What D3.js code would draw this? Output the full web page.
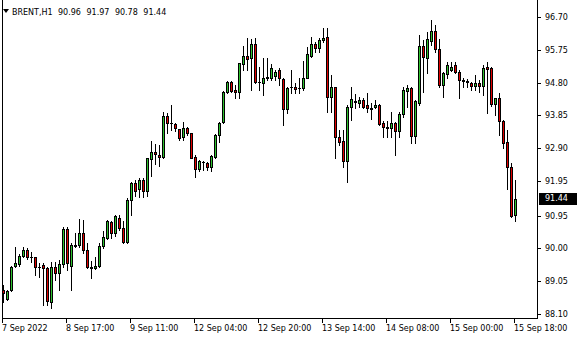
<!DOCTYPE html>
<html><head><meta charset="utf-8">
<script src="https://cdn.jsdelivr.net/npm/d3@7"></script>
<style>html,body{margin:0;padding:0;background:#fff;} svg{display:block;}</style>
</head><body>
<svg id="c" width="580" height="340"></svg>
<script>
const symbolName = "BRENT,H1";
const headerValues = "90.96 91.97 90.78 91.44";
const open = [
88.79,88.53,88.79,89.49,89.55,89.78,89.95,89.75,89.75,89.46,
89.52,89.43,88.45,89.46,89.29,89.55,90.56,89.49,90.08,90.10,
90.44,89.95,89.46,89.43,89.49,90.07,90.30,90.76,90.44,90.88,
90.59,90.18,91.40,91.89,91.72,91.98,91.66,92.59,92.79,92.70,
92.65,93.83,93.63,93.60,93.46,93.22,93.49,93.34,92.65,92.30,
92.50,92.47,92.36,92.65,93.28,93.66,94.53,94.82,94.59,94.53,
95.34,95.57,95.51,95.92,94.82,94.79,94.93,94.93,94.99,95.17,
94.90,94.04,94.67,94.67,94.64,94.64,94.93,95.57,95.92,95.80,
96.03,96.12,94.38,94.67,93.22,93.11,92.53,94.09,94.24,94.21,
94.30,94.15,94.06,94.09,94.15,93.63,93.51,93.49,93.63,93.40,
93.89,94.56,94.64,93.25,94.21,95.86,95.51,96.00,96.29,95.77,
94.73,95.05,95.17,95.31,95.11,94.88,94.85,94.79,94.70,94.79,
94.70,95.25,95.22,94.18,94.35,93.69,93.08,92.36,90.96];
const high = [
88.94,88.79,89.49,90.04,89.84,90.04,90.01,89.89,89.76,89.58,
89.58,89.46,89.60,89.60,89.66,90.62,90.62,90.16,90.44,90.85,
90.82,90.16,89.63,89.75,90.16,90.50,90.81,90.79,90.97,90.97,
90.79,91.46,91.92,91.98,92.04,92.04,92.63,93.11,93.02,92.99,
93.95,93.92,94.15,93.63,93.47,93.66,93.51,93.35,92.70,92.56,
92.53,92.50,92.70,93.31,93.66,94.56,94.85,94.85,94.73,95.38,
95.86,96.09,96.06,96.09,95.25,95.51,95.51,95.34,95.17,95.22,
94.93,94.67,95.17,94.79,94.93,95.43,95.83,96.12,95.98,96.09,
96.38,96.38,95.02,94.68,93.43,93.43,94.15,94.67,94.47,94.38,
94.35,94.50,94.21,94.30,94.18,93.69,93.69,93.95,93.66,93.95,
94.67,94.73,94.67,94.30,96.18,96.03,96.27,96.61,96.47,96.06,
95.11,95.40,95.40,95.40,95.17,94.93,94.90,94.82,95.02,94.88,
95.31,95.40,95.25,94.36,94.50,93.72,93.43,92.47,91.97];
const low = [
88.45,88.50,88.77,89.46,89.49,89.75,89.69,89.60,89.23,89.17,
88.36,88.36,88.27,89.08,88.79,89.46,89.37,88.79,90.04,90.04,
89.87,89.43,89.14,89.40,89.46,90.01,90.28,90.30,90.36,90.53,
90.16,90.16,90.97,91.52,91.49,91.49,91.52,92.10,92.44,92.39,
92.63,93.34,93.43,93.40,93.14,93.14,93.28,92.61,92.07,92.24,
92.27,92.27,92.24,92.62,93.08,93.63,94.50,94.53,94.35,94.35,
95.17,95.17,94.59,94.79,94.59,94.44,94.88,94.88,94.88,94.73,
93.57,93.92,94.50,94.50,94.50,94.59,94.92,95.54,95.69,95.69,
95.98,93.95,93.95,92.62,92.99,92.36,91.92,93.72,94.06,94.09,
94.06,93.95,93.75,94.06,93.57,93.22,93.22,93.22,92.70,93.22,
93.80,94.09,93.05,93.05,94.15,94.53,95.08,95.89,95.69,94.67,
94.38,94.93,95.14,95.08,94.35,94.67,94.67,94.59,94.59,94.53,
94.44,93.92,94.12,93.86,93.28,92.91,91.72,90.91,90.78];
const close = [
88.71,88.77,89.46,89.58,89.78,89.95,89.75,89.76,89.46,89.45,
89.43,88.48,89.46,89.29,89.55,90.56,89.58,90.10,90.10,90.44,
89.95,89.46,89.43,89.49,90.07,90.33,90.79,90.44,90.94,90.59,
90.18,91.40,91.89,91.66,91.98,91.66,92.62,92.79,92.73,92.65,
93.83,93.63,93.62,93.49,93.20,93.49,93.34,92.62,92.30,92.53,
92.51,92.36,92.67,93.28,93.63,94.53,94.82,94.56,94.53,95.37,
95.57,95.48,95.92,94.82,94.81,94.93,94.96,95.22,95.11,94.93,
94.04,94.64,94.66,94.61,94.63,94.93,95.63,95.92,95.80,96.03,
96.09,94.38,94.67,93.22,93.08,92.53,94.09,94.33,94.27,94.30,
94.09,94.06,94.05,94.15,93.60,93.51,93.50,93.63,93.40,93.89,
94.59,94.64,93.25,94.27,95.86,95.54,96.06,96.29,95.77,94.73,
95.08,95.31,95.25,95.11,94.88,94.85,94.83,94.70,94.79,94.70,
95.22,95.19,94.18,94.35,93.69,93.05,92.36,90.94,91.44];
const priceTicks = [96.70,95.75,94.80,93.85,92.90,91.95,90.95,90.00,89.05,88.10];
const dateLabels = ["7 Sep 2022","8 Sep 17:00","9 Sep 11:00","12 Sep 04:00","12 Sep 20:00","13 Sep 14:00","14 Sep 08:00","15 Sep 00:00","15 Sep 18:00"];
const dateIndex = [0,16,32,48,64,80,96,112,128];
const lastPrice = 91.44;

const candles = open.map((o,i)=>({i, o, h:high[i], l:low[i], c:close[i]}));
const svg = d3.select("#c");
const font = "'DejaVu Sans', Tahoma, sans-serif";
const x = d3.scaleLinear().domain([0, 128]).range([3.5, 515.5]);
const y = d3.scaleLinear().domain([88.10, 96.70]).range([314, 17]);
const upColor = "#2ec12e", downColor = "#e00000";

// frame
const frame = svg.append("g").attr("stroke","#000").attr("stroke-width",1).attr("shape-rendering","crispEdges");
frame.append("line").attr("x1",2.5).attr("x2",2.5).attr("y1",0).attr("y2",318.5);
frame.append("line").attr("x1",537.5).attr("x2",537.5).attr("y1",0).attr("y2",318.5);
frame.append("line").attr("x1",2).attr("x2",538).attr("y1",318.5).attr("y2",318.5);

// candles
const g = svg.append("g").attr("shape-rendering","crispEdges");
candles.forEach(d=>{
  const cx = x(d.i);
  const yh = Math.round(y(d.h)), yl = Math.round(y(d.l));
  const yt = Math.round(y(Math.max(d.o,d.c))), yb = Math.round(y(Math.min(d.o,d.c)));
  g.append("rect").attr("x",cx-0.5).attr("width",1).attr("y",yh).attr("height",Math.max(1,yl-yh+1)).attr("fill","#000");
  g.append("rect").attr("x",cx-1.5).attr("width",3).attr("y",yt).attr("height",Math.max(1,yb-yt+1)).attr("fill","#000");
  if (yb-yt-1 > 0) {
    g.append("rect").attr("x",cx-0.5).attr("width",1).attr("y",yt+1).attr("height",yb-yt-1)
      .attr("fill", d.c>=d.o ? upColor : downColor);
  }
});

// right price axis
const axis = svg.append("g").attr("transform","translate(537,0)")
  .call(d3.axisRight(y).tickValues(priceTicks).tickSize(4).tickPadding(4).tickFormat(d3.format(".2f")));
axis.select(".domain").remove();
axis.selectAll("line").attr("stroke","#000").attr("shape-rendering","crispEdges");
axis.selectAll("text").attr("font-family",font).attr("font-size","8px").attr("fill","#000");

// last price box
const ly = y(lastPrice);
svg.append("rect").attr("x",539).attr("y",Math.round(ly)-6).attr("width",38).attr("height",12).attr("fill","#000");
svg.append("text").attr("x",545).attr("y",ly).attr("dy","0.35em").attr("font-family",font).attr("font-size","8px")
  .attr("fill","#fff").text(d3.format(".2f")(lastPrice));

// bottom time labels
const tg = svg.append("g");
dateIndex.forEach((idx,k)=>{
  const tx = Math.floor(x(idx)) - 0.5;
  tg.append("line").attr("x1",tx).attr("x2",tx).attr("y1",318).attr("y2",323).attr("stroke","#000").attr("shape-rendering","crispEdges");
  tg.append("text").attr("x",tx-0.5).attr("y",331).attr("font-family",font).attr("font-size","8px").attr("fill","#000").text(dateLabels[k]);
});

// header
svg.append("path").attr("d","M3,9 L9,9 L6,13 Z").attr("fill","#000");
svg.append("text").attr("x",12).attr("y",15).attr("font-family",font).attr("font-size","8px").attr("fill","#000").text(symbolName);
svg.append("text").attr("x",58).attr("y",15).attr("font-family",font).attr("font-size","8px").attr("word-spacing","3px").attr("fill","#000").text(headerValues);
</script>
</body></html>
